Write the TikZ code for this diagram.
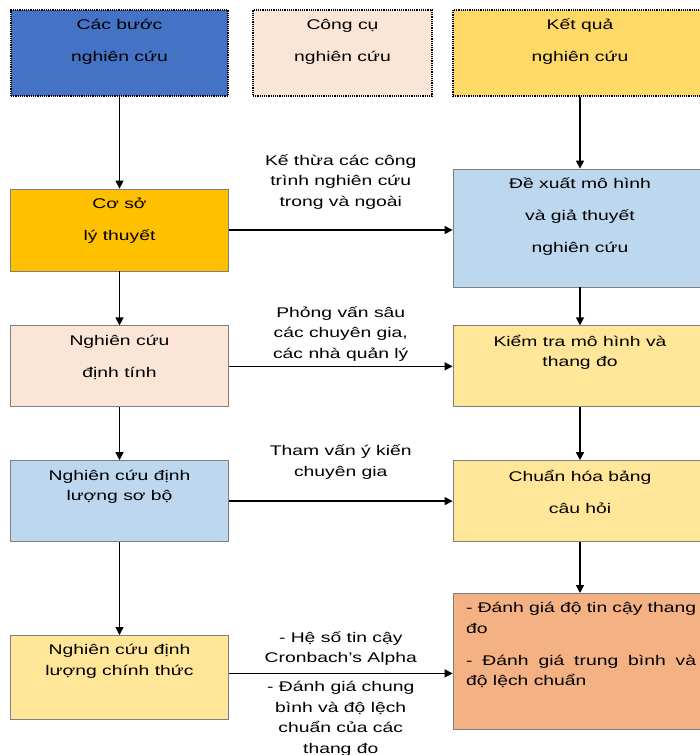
\documentclass[tikz,border=0pt]{standalone}
\usepackage{fontspec}
\setmainfont{Liberation Sans}[FakeStretch=1.38]
\usetikzlibrary{positioning,arrows.meta}

\definecolor{xanhdam}{HTML}{4472C4}
\definecolor{hongnhat}{HTML}{FBE5D6}
\definecolor{vangdam}{HTML}{FFD966}
\definecolor{camvang}{HTML}{FFC000}
\definecolor{xanhnhat}{HTML}{BDD7EE}
\definecolor{vangnhat}{HTML}{FFE699}
\definecolor{camnhat}{HTML}{F4B183}
\definecolor{vien}{HTML}{7F7F7F}

\begin{document}
\begin{tikzpicture}[x=1pt,y=-1pt,
    hop/.style={draw=vien,line width=0.8pt,inner sep=0pt},
    tieude/.style={draw=black,densely dotted,line width=1.2pt,inner sep=0pt,minimum height=86pt},
    chu/.style={anchor=north,yshift=-6pt,align=center,font=\fontsize{14}{20.5}\selectfont},
    nhan/.style={align=center,fill=white,font=\fontsize{14}{20.5}\selectfont},
    muiten/.style={-{Triangle[length=8pt,width=8pt]},line width=1.3pt}]

    \def\rongtrai{218pt}%Rong cot trai
    \def\rongphai{254pt}%Rong cot phai
    \def\cach{11.5pt}%Gian dong

    \useasboundingbox (0,0) rectangle (700,755);
    \clip (0,0) rectangle (700,755);

    %Tieu de
    \node[tieude,fill=xanhdam,minimum width=217pt,label={[chu,name=buoc-chu]north:{Các bước\\[\cach]nghiên cứu}}] (buoc) at (119.5,53) {};
    \node[tieude,fill=hongnhat,minimum width=179pt,label={[chu,name=congcu-chu]north:{Công cụ\\[\cach]nghiên cứu}}] (congcu) at (342.5,53) {};
    \node[tieude,fill=vangdam,minimum width=\rongphai,label={[chu,name=ketqua-chu]north:{Kết quả\\[\cach]nghiên cứu}}] (ketqua) at (580,53) {};

    %Cot trai
    \node[hop,fill=camvang,minimum width=\rongtrai,minimum height=82pt,below=92pt of buoc,
        label={[chu,name=coso-chu]north:{Cơ sở\\[\cach]lý thuyết}}] (coso) {};
    \node[hop,fill=hongnhat,minimum width=\rongtrai,minimum height=81pt,below=54pt of coso,
        label={[chu,name=dinhtinh-chu]north:{Nghiên cứu\\[\cach]định tính}}] (dinhtinh) {};
    \node[hop,fill=xanhnhat,minimum width=\rongtrai,minimum height=81pt,below=53pt of dinhtinh,
        label={[chu,name=sobo-chu]north:{Nghiên cứu định\\lượng sơ bộ}}] (sobo) {};
    \node[hop,fill=vangnhat,minimum width=\rongtrai,minimum height=84pt,below=93pt of sobo,
        label={[chu,name=chinhthuc-chu]north:{Nghiên cứu định\\lượng chính thức}}] (chinhthuc) {};

    %Cot phai
    \node[hop,fill=xanhnhat,minimum width=\rongphai,minimum height=118pt,below=72pt of ketqua,
        label={[chu,name=dexuat-chu]north:{Đề xuất mô hình\\[\cach]và giả thuyết\\[\cach]nghiên cứu}}] (dexuat) {};
    \node[hop,fill=vangnhat,minimum width=\rongphai,minimum height=81pt,below=38pt of dexuat,
        label={[chu,name=kiemtra-chu]north:{Kiểm tra mô hình và\\thang đo}}] (kiemtra) {};
    \node[hop,fill=vangnhat,minimum width=\rongphai,minimum height=81pt,below=53pt of kiemtra,
        label={[chu,name=chuanhoa-chu]north:{Chuẩn hóa bảng\\[\cach]câu hỏi}}] (chuanhoa) {};
    \node[hop,fill=camnhat,minimum width=\rongphai,minimum height=136pt,below=51pt of chuanhoa,
        label={[chu,name=danhgia-chu,anchor=north west,xshift=10pt,text width=230pt,align=justify]north west:{- Đánh giá độ tin cậy thang\linebreak đo\\[\cach]- Đánh giá trung bình và\linebreak độ lệch chuẩn}}] (danhgia) {};

    %Mui ten doc
    \draw[muiten] (buoc) -- (coso);
    \draw[muiten] (coso) -- (dinhtinh);
    \draw[muiten] (dinhtinh) -- (sobo);
    \draw[muiten] (sobo) -- (chinhthuc);
    \draw[muiten] (ketqua) -- (dexuat);
    \draw[muiten] (dexuat) -- (kiemtra);
    \draw[muiten] (kiemtra) -- (chuanhoa);
    \draw[muiten] (chuanhoa) -- (danhgia);

    %Mui ten ngang
    \draw[muiten] (coso) -- (coso -| dexuat.west)
        node[nhan,midway,above=17pt] (nhan1) {Kế thừa các công\\trình nghiên cứu\\trong và ngoài};
    \draw[muiten] (dinhtinh) -- (kiemtra)
        node[nhan,midway,above=1pt] (nhan2) {Phỏng vấn sâu\\các chuyên gia,\\các nhà quản lý};
    \draw[muiten] (sobo) -- (chuanhoa)
        node[nhan,midway,above=18pt] (nhan3) {Tham vấn ý kiến\\chuyên gia};
    \draw[muiten] ([yshift=4pt]chinhthuc.east) -- ([yshift=4pt]chinhthuc.east -| danhgia.west)
        node[nhan,midway,above=4pt] (nhan4) {- Hệ số tin cậy\\Cronbach's Alpha}
        node[nhan,midway,below=4pt] (nhan5) {- Đánh giá chung\\bình và độ lệch\\chuẩn của các\\thang đo};
\end{tikzpicture}
\end{document}
